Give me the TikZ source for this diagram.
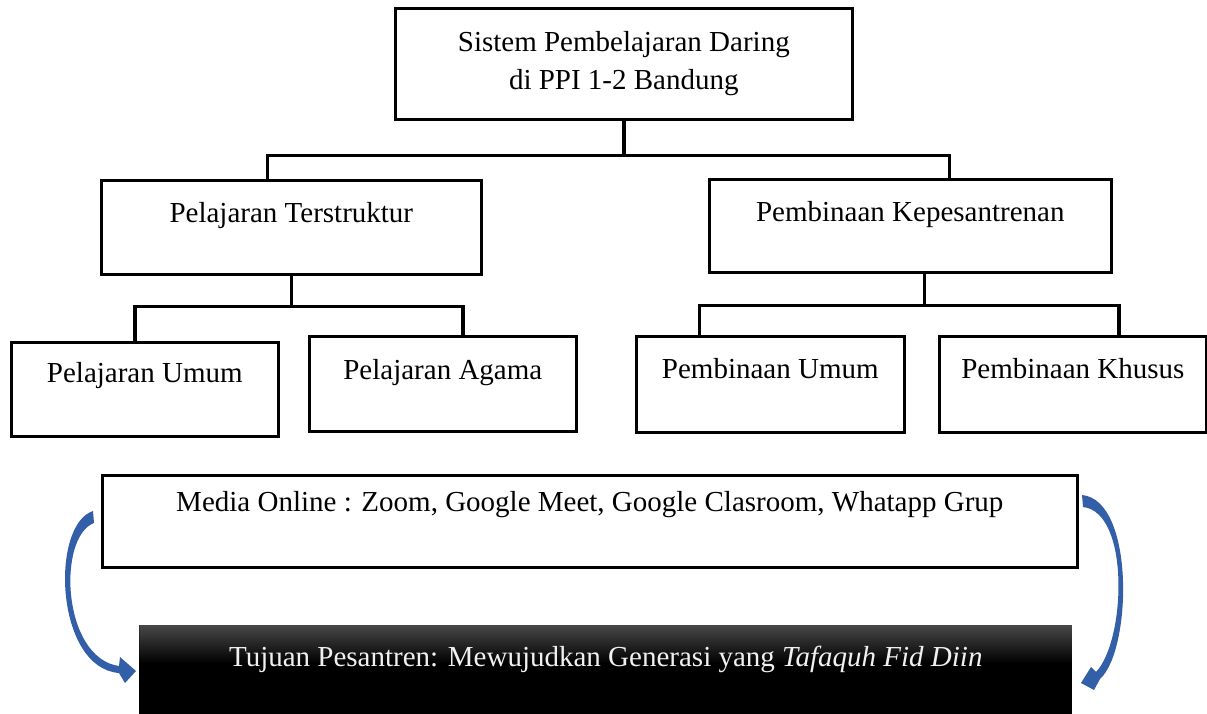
\documentclass[tikz,border=0pt]{standalone}
\usepackage{fontspec}
\setmainfont{Liberation Serif}
\definecolor{arrowblue}{RGB}{50,95,168}
\tikzset{
    line join=miter,
    plainbox/.style={draw, line width=2.6pt, anchor=north west, inner sep=0pt,
        font=\fontsize{29}{38}\selectfont},
    box/.style={plainbox, text height=20pt, text depth=29pt},
    link/.style={line width=3.4pt},
    goalbox/.style={box, draw=none, fill=black, text=white!94!black,
        path picture={\foreach \k in {0,...,19}{\pgfmathsetmacro\shadeamt{72+28*\k/19}
            \fill[black!\shadeamt] ([yshift={-2*\k}]path picture bounding box.north west)
                rectangle ([yshift={-2*\k-2.5}]path picture bounding box.north east);}}},
}

\begin{document}
\begin{tikzpicture}[x=1pt,y=-1pt]
    \useasboundingbox (0,0) rectangle (1207,714);

    \node[plainbox, align=center, minimum width=457pt, minimum height=111pt] (sistem) at (394,7)
        {Sistem Pembelajaran Daring\\di PPI 1-2 Bandung};
    \node[box, minimum width=380pt, minimum height=94pt] (terstruktur) at (100,179) {Pelajaran Terstruktur};
    \node[box, minimum width=402pt, minimum height=93pt] (kepesantrenan) at (708,178) {Pembinaan Kepesantrenan};
    \node[box, minimum width=267pt, minimum height=94pt, text depth=34pt] (pelumum) at (10,341) {Pelajaran Umum};
    \node[box, minimum width=267pt, minimum height=95pt] (pelagama) at (308,335) {Pelajaran Agama};
    \node[box, minimum width=268pt, minimum height=96pt, text depth=32pt] (binumum) at (635,335) {Pembinaan Umum};
    \node[box, minimum width=267pt, minimum height=96pt, text depth=32pt] (binkhusus) at (938,335) {Pembinaan Khusus};
    \node[box, minimum width=975pt, minimum height=92pt, text depth=40pt] (media) at (101,474)
        {Media Online : Zoom, Google Meet, Google Clasroom, Whatapp Grup};
    \node[goalbox, minimum width=933pt, minimum height=95pt, text depth=33pt] (tujuan) at (138,624)
        {Tujuan Pesantren: Mewujudkan Generasi yang \textit{Tafaquh Fid Diin}};

    \draw[link] (sistem.south) -- ++(0,35) coordinate (hub);
    \draw[link] ([xshift=-24pt]terstruktur.north) |- (hub) -| ([xshift=39pt]kepesantrenan.north);
    \draw[link] (terstruktur.south) -- ++(0,31) coordinate (hubA);
    \draw[link] ([xshift=-10pt]pelumum.north) |- (hubA) -| ([xshift=20pt]pelagama.north);
    \draw[link] ([xshift=14pt]kepesantrenan.south) -- ++(0,32) coordinate (hubB);
    \draw[link] ([xshift=-71pt]binumum.north) |- (hubB) -| ([xshift=46pt]binkhusus.north);

    \fill[arrowblue] (93,511) .. controls (50,525) and (55,668) .. (119,673) -- (125,683) -- (136,671)
        -- (120,657) -- (119,666) .. controls (62,658) and (57,537) .. (94,523) -- cycle;
    \fill[arrowblue] (1082,495) .. controls (1135,500) and (1132,650) .. (1100,679) -- (1094,690) -- (1081,683)
        -- (1091,667) -- (1096,672) .. controls (1126,640) and (1130,512) .. (1083,507) -- cycle;
\end{tikzpicture}
\end{document}
